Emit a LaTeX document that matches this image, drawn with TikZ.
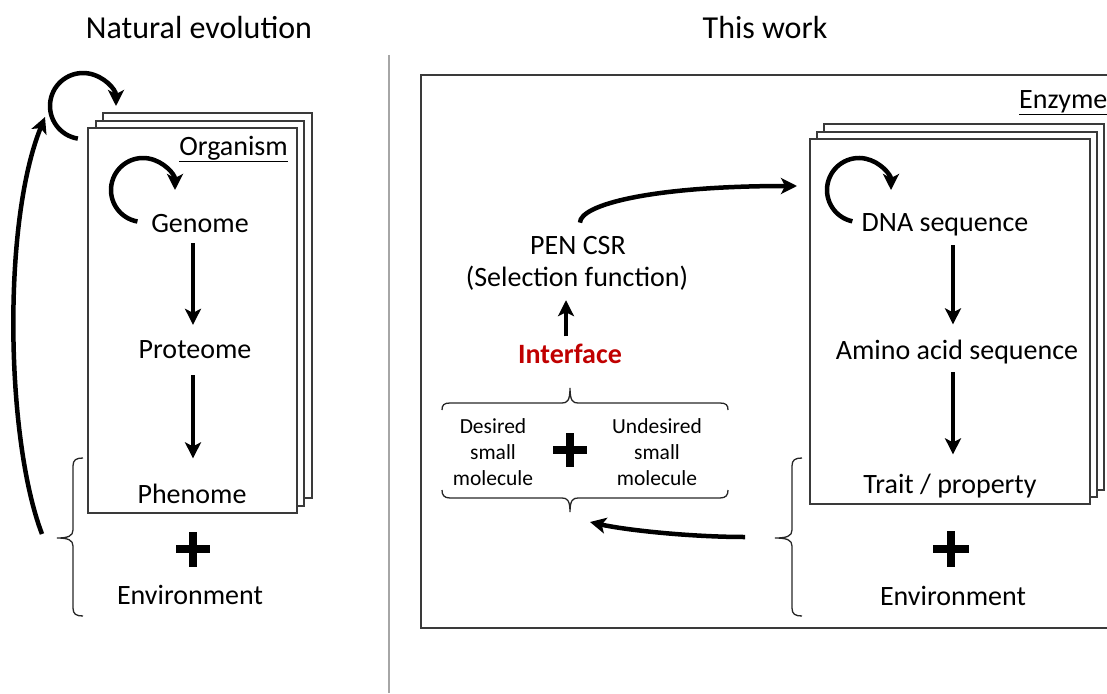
\documentclass[tikz,border=0pt]{standalone}
\usepackage{fontspec}
\setmainfont{Carlito}
\usetikzlibrary{arrows.meta,calc}
\definecolor{ired}{HTML}{C00000}
\definecolor{linegray}{HTML}{3A3A3A}
\begin{document}
\begin{tikzpicture}[x=1pt,y=-1pt,
  arr/.style={line width=4.5pt,-{Stealth[length=16pt,width=16pt,inset=4pt]}},
  lbl/.style={font=\fontsize{28}{34}\selectfont,inner sep=0pt,anchor=base,text depth=0pt},
  ttl/.style={font=\fontsize{32}{38}\selectfont,inner sep=0pt,anchor=base},
  smalltxt/.style={font=\fontsize{21.5}{26}\selectfont,align=center,inner sep=0pt},
  page/.style={draw=linegray,fill=white,line width=1.3pt},
  frame/.style={draw=linegray,line width=1.5pt},
  divider/.style={draw=black!35,line width=1.3pt},
  brc/.style={draw=black!85,line width=1.3pt},
  plussign/.style={line width=8pt}]
\useasboundingbox (0,0) rectangle (1107,693);

% divider and frame
\draw[divider] (389,55) -- (389,693);
\draw[frame] (421,75) rectangle (1140,628);

% left stack
\draw[page] (103,113) rectangle (312,498);
\draw[page] (96,121) rectangle (304,506);
\draw[page] (88,128) rectangle (297,513);

% right stack
\draw[page] (824,124) rectangle (1104,490);
\draw[page] (817,132) rectangle (1097,497);
\draw[page] (810,139) rectangle (1090,504);

% titles
\node[ttl] (t1) at (199,38) {Natural evolution};
\node[ttl] (t2) at (765,38) {This work};

% left texts
\node[lbl,anchor=base east] (org) at (288,155) {\underline{Organism}};
\node[lbl] (genome) at (200,232) {Genome};
\node[lbl] (proteome) at (195,358) {Proteome};
\node[lbl] (phenome) at (192,503) {Phenome};
\node[lbl] (env1) at (190,604) {Environment};

% right texts
\node[lbl,anchor=base west] (enz) at (1019,108) {\underline{Enzyme}};
\node[lbl] (dna) at (945,231) {DNA sequence};
\node[lbl] (amino) at (957,359) {Amino acid sequence};
\node[lbl] (trait) at (950,493) {Trait / property};
\node[lbl] (env2) at (953,605) {Environment};

% middle texts
\node[lbl] (pen) at (578,254) {PEN CSR};
\node[lbl] (sel) at (577,286) {(Selection function)};
\node[lbl,text=ired] (iface) at (570,363) {\textbf{Interface}};
\node[smalltxt] (des) at (493,452) {Desired\\small\\molecule};
\node[smalltxt] (undes) at (657,452) {Undesired\\small\\molecule};

% vertical arrows
\draw[arr,shorten <=11pt,shorten >=15pt] ([xshift=-7pt]genome.south) -- ([xshift=-2pt]proteome.north);
\draw[arr,shorten <=17pt,shorten >=25pt] ([xshift=-2pt]proteome.south) -- ([xshift=1pt]phenome.north);
\draw[arr,shorten <=14pt,shorten >=15pt] ([xshift=8pt]dna.south) -- ([xshift=-4pt]amino.north);
\draw[arr,shorten <=13pt,shorten >=19pt] ([xshift=-4pt]amino.south) -- ([xshift=3pt]trait.north);
\draw[arr,shorten <=7pt,shorten >=14pt] ([xshift=-4pt]iface.north) -- ([xshift=-11pt]sel.south);

% circular arrows
\coordinate (cA) at (83,106);
\coordinate (cG) at (143,190);
\coordinate (cD) at (859,190);
\draw[arr] ($(cA)+(-261:33)$) arc[start angle=-261,end angle=0,radius=33];
\draw[arr] ($(cG)+(-260:32)$) arc[start angle=-260,end angle=0,radius=32];
\draw[arr] ($(cD)+(-258:32)$) arc[start angle=-258,end angle=0,radius=32];

% long left arrow
\coordinate (la0) at (42,534);
\coordinate (la1) at (45,117);
\draw[arr] (la0) .. controls (6,440) and (2,223) .. (la1);

% PEN -> DNA arrow
\coordinate (dnain) at (797,186);
\draw[arr] ([xshift=2pt,yshift=13pt]pen.north) .. controls (580,205) and (650,186) .. (dnain);

% environment -> molecules arrow
\coordinate (fb0) at (745,537);
\coordinate (fb1) at (590,522);
\draw[arr] (fb0) .. controls (690,537) and (625,530) .. (fb1);

% braces
\draw[brc] (83,458) .. controls (76,458) and (73,460) .. (73,466) -- (73,530)
  .. controls (73,536) and (68,538) .. (57,538)
  .. controls (68,538) and (73,540) .. (73,546) -- (73,608)
  .. controls (73,614) and (76,616) .. (83,616);
\draw[brc] (802,458) .. controls (795,458) and (792,460) .. (792,466) -- (792,530)
  .. controls (792,536) and (787,538) .. (775,538)
  .. controls (787,538) and (792,540) .. (792,546) -- (792,608)
  .. controls (792,614) and (795,616) .. (802,616);
\draw[brc] (442,410) .. controls (442,405) and (444,403) .. (450,403) -- (562,403)
  .. controls (567,403) and (570,401) .. (570,388)
  .. controls (570,401) and (573,403) .. (578,403) -- (720,403)
  .. controls (726,403) and (728,405) .. (728,410);
\draw[brc] (442,490) .. controls (442,495) and (444,498) .. (450,498) -- (562,498)
  .. controls (567,498) and (570,500) .. (570,512)
  .. controls (570,500) and (573,498) .. (578,498) -- (720,498)
  .. controls (726,498) and (728,495) .. (728,490);

% plus signs
\draw[plussign] (176,549) -- (210,549);
\draw[plussign] (193,532) -- (193,567);
\draw[plussign] (933,549) -- (969,549);
\draw[plussign] (951,531) -- (951,567);
\draw[plussign] (553,450) -- (587,450);
\draw[plussign] (570,433) -- (570,467);
\end{tikzpicture}
\end{document}
